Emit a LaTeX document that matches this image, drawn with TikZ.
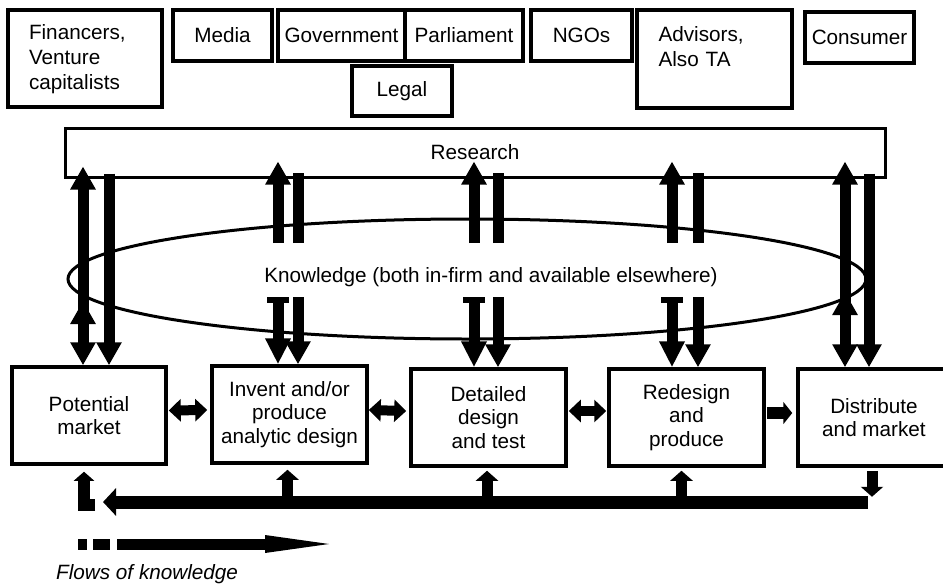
\documentclass[tikz,border=0pt]{standalone}
\usepackage{fontspec}
\setmainfont{Liberation Sans}
\usetikzlibrary{arrows.meta,shapes.geometric,calc}
\begin{document}
\begin{tikzpicture}[x=1pt,y=-1pt,
  box/.style={draw, line width=3.5pt, fill=white, rectangle, inner sep=2pt, align=center, font=\fontsize{20.7}{23.5}\selectfont},
  tbox/.style={box, font=\fontsize{20.7}{25}\selectfont, minimum height=51pt},
  bbox/.style={box, minimum width=155pt, minimum height=97pt},
  vup/.style={line width=11pt, -{Triangle[width=24pt,length=23pt]}},
  vtwo/.style={line width=11pt, {Triangle[width=24pt,length=23pt]}-{Triangle[width=24pt,length=23pt]}},
  vbar/.style={line width=11pt},
  vtee/.style={line width=11pt, {Rectangle[width=22pt,length=6pt]}-{Triangle[width=24pt,length=26pt]}},
  hdbl/.style={line width=10pt, {Triangle[width=22pt,length=12pt]}-{Triangle[width=22pt,length=12pt]}},
  hone/.style={line width=12pt, -{Triangle[width=22pt,length=9pt]}},
  fbar/.style={line width=13pt, -{Triangle[width=27pt,length=13pt]}},
  fup/.style={line width=11pt, -{Triangle[width=22pt,length=10pt]}},
  fel/.style={line width=12pt, miter limit=10, -{Triangle[width=20pt,length=9pt]}}
]
\useasboundingbox (0,0) rectangle (943,584);

% top actors
\node[tbox, minimum width=154pt, minimum height=97pt, text width=112pt, align=left] (fin) at (85,58.5) {\rule{0pt}{16pt}Financers,\\Venture\\capitalists};
\node[tbox, minimum width=99pt] (media) at (222.5,35.5) {Media};
\node[tbox, minimum width=127pt] (gov) at (341.5,35.5) {Government};
\node[tbox, minimum width=118pt] (parl) at (464,35.5) {Parliament};
\node[tbox, minimum width=100pt, minimum height=50pt] (legal) at (402,91) {Legal};
\node[tbox, minimum width=101pt] (ngo) at (581.5,35.5) {NGOs};
\node[tbox, minimum width=155pt, minimum height=98pt, text width=112pt, align=left] (adv) at (714.5,59) {Advisors,\\Also TA\\~};
\node[tbox, minimum width=109pt] (cons) at (859.5,37.5) {Consumer};

% research and knowledge
\node[box, line width=3pt, minimum width=820pt, minimum height=49pt] (research) at (475,152.5) {Research};
\node[draw, ellipse, line width=3pt, minimum width=798pt, minimum height=120pt, inner sep=0pt] (know) at (467,279) {};
\node[font=\fontsize{20.7}{24}\selectfont] (ktext) at (491,277) {Knowledge (both in-firm and available elsewhere)};

% process boxes
\node[bbox, minimum width=154pt] (pm) at (89,415.5) {Potential\\market};
\node[bbox] (inv) at (289.5,414.5) {Invent and/or\\produce\\analytic design};
\node[bbox] (det) at (488.5,417.5) {Detailed\\design\\and test};
\node[bbox] (red) at (686.5,417.5) {Redesign\\and\\produce};
\node[bbox, minimum width=152pt] (dis) at (874,417.5) {Distribute\\and market};

% column positions
\coordinate (c1a) at (83,0);  \coordinate (c1b) at (109,0);
\coordinate (c2a) at (278,0); \coordinate (c2b) at (298,0);
\coordinate (c3a) at (474,0); \coordinate (c3b) at (498,0);
\coordinate (c4a) at (672,0); \coordinate (c4b) at (698,0);
\coordinate (c5a) at (845,0); \coordinate (c5b) at (869,0);

% column 1
\draw[vup] ($(c1a |- know.center)+(0,40)$) -- ($(c1a |- research.south)+(0,-12)$);
\draw[vtwo] (c1a |- pm.north) -- ($(c1a |- know.center)+(0,22)$);
\draw[vup] ($(c1b |- research.south)+(0,-5)$) -- (c1b |- pm.north);

% columns 2-4
\draw[vup] ($(c2a |- know.center)+(0,-36)$) -- ($(c2a |- research.south)+(0,-17)$);
\draw[vbar] ($(c2b |- know.center)+(0,-36)$) -- ($(c2b |- research.south)+(0,-6)$);
\draw[vtee] ($(c2a |- know.center)+(0,18)$) -- (c2a |- inv.north);
\draw[vup] ($(c2b |- know.center)+(0,18)$) -- (c2b |- inv.north);

\draw[vup] ($(c3a |- know.center)+(0,-36)$) -- ($(c3a |- research.south)+(0,-17)$);
\draw[vbar] ($(c3b |- know.center)+(0,-36)$) -- ($(c3b |- research.south)+(0,-6)$);
\draw[vtee] ($(c3a |- know.center)+(0,18)$) -- (c3a |- det.north);
\draw[vup] ($(c3b |- know.center)+(0,18)$) -- (c3b |- det.north);

\draw[vup] ($(c4a |- know.center)+(0,-36)$) -- ($(c4a |- research.south)+(0,-17)$);
\draw[vbar] ($(c4b |- know.center)+(0,-36)$) -- ($(c4b |- research.south)+(0,-6)$);
\draw[vtee] ($(c4a |- know.center)+(0,18)$) -- (c4a |- red.north);
\draw[vup] ($(c4b |- know.center)+(0,18)$) -- (c4b |- red.north);

% column 5
\draw[vup] ($(c5a |- know.center)+(0,32)$) -- ($(c5a |- research.south)+(0,-17)$);
\draw[vtwo] (c5a |- dis.north) -- ($(c5a |- know.center)+(0,13)$);
\draw[vup] ($(c5b |- research.south)+(0,-5)$) -- (c5b |- dis.north);

% horizontal links
\draw[hdbl] ([xshift=1pt,yshift=5pt]pm.east) -- ([xshift=-3pt,yshift=4.5pt]inv.west);
\draw[hdbl] ([xshift=0pt,yshift=4.5pt]inv.east) -- ([xshift=-3pt,yshift=6.5pt]det.west);
\draw[hdbl] ([xshift=1pt,yshift=6.5pt]det.east) -- ([xshift=-1pt,yshift=6.5pt]red.west);
\draw[hone] ([xshift=1pt,yshift=4.5pt]red.east) -- ([xshift=-4pt,yshift=4.5pt]dis.west);

% feedback
\coordinate (fbR) at (868,502);
\coordinate (fbL) at (103,502);
\draw[fup] ($(dis.south)+(-2,3)$) -- ($(dis.south)+(-2,29)$);
\draw[fbar] (fbR) -- (fbL);
\draw[fup] ($(inv.south |- fbR)+(-2,0)$) -- ($(inv.south)+(-2,5)$);
\draw[fup] ($(det.south |- fbR)+(-1.5,0)$) -- ($(det.south)+(-1.5,3)$);
\draw[fup] ($(red.south |- fbR)+(-5,0)$) -- ($(red.south)+(-5,3)$);
\draw[fel] ($(pm.south |- fbR)+(6,3)$) -- ($(pm.south |- fbR)+(-5,3)$) -- ($(pm.south)+(-5,6)$);

% legend
\coordinate (lg1) at (78,544);
\coordinate (lg2) at (266,544);
\coordinate (lg3) at (329,544);
\draw[line width=11pt, dash pattern=on 9pt off 6pt on 17pt off 7pt on 500pt off 0pt] (lg1) -- (lg2);
\fill ($(lg2)+(-1,-9)$) -- (lg3) -- ($(lg2)+(-1,9)$) -- cycle;
\node[anchor=base west, inner sep=0pt, font=\fontsize{20.7}{24}\selectfont\itshape] (legend) at (56,579) {Flows of knowledge};
\end{tikzpicture}
\end{document}
